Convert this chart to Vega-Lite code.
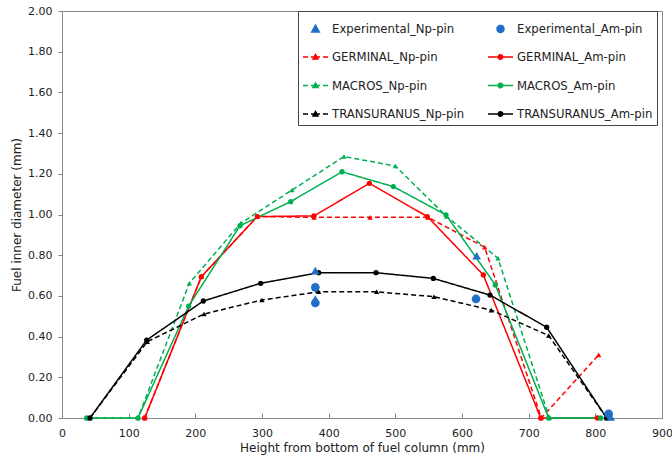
{
  "$schema": "https://vega.github.io/schema/vega-lite/v6.json",
  "width": 600,
  "height": 407,
  "autosize": {"type": "none"},
  "padding": {"left": 62, "top": 11, "right": 10, "bottom": 44},
  "background": "white",
  "config": {
    "font": "DejaVu Sans",
    "view": {"stroke": "#888888", "strokeWidth": 1},
    "axis": {"grid": false, "domainColor": "#888888", "tickColor": "#888888", "labelFont": "DejaVu Sans", "titleFont": "DejaVu Sans", "labelFontSize": 11, "titleFontSize": 12, "titleFontWeight": "normal", "labelColor": "#222222", "titleColor": "#222222"}
  },
  "datasets": {
    "pts": [
      {"s": "Experimental_Np-pin", "x": 380, "y": 0.725},
      {"s": "Experimental_Np-pin", "x": 380, "y": 0.585},
      {"s": "Experimental_Np-pin", "x": 622, "y": 0.797},
      {"s": "Experimental_Np-pin", "x": 823, "y": 0.005},
      {"s": "Experimental_Am-pin", "x": 380, "y": 0.642},
      {"s": "Experimental_Am-pin", "x": 380, "y": 0.565},
      {"s": "Experimental_Am-pin", "x": 621, "y": 0.585},
      {"s": "Experimental_Am-pin", "x": 820, "y": 0.02},
      {"s": "GERMINAL_Np-pin", "x": 124, "y": 0},
      {"s": "GERMINAL_Np-pin", "x": 209, "y": 0.694},
      {"s": "GERMINAL_Np-pin", "x": 293, "y": 0.99},
      {"s": "GERMINAL_Np-pin", "x": 378, "y": 0.986},
      {"s": "GERMINAL_Np-pin", "x": 462, "y": 0.986},
      {"s": "GERMINAL_Np-pin", "x": 549, "y": 0.986},
      {"s": "GERMINAL_Np-pin", "x": 634, "y": 0.839},
      {"s": "GERMINAL_Np-pin", "x": 719, "y": 0},
      {"s": "GERMINAL_Np-pin", "x": 805, "y": 0.31},
      {"s": "GERMINAL_Am-pin", "x": 124, "y": 0},
      {"s": "GERMINAL_Am-pin", "x": 209, "y": 0.694},
      {"s": "GERMINAL_Am-pin", "x": 293, "y": 0.99},
      {"s": "GERMINAL_Am-pin", "x": 378, "y": 0.993},
      {"s": "GERMINAL_Am-pin", "x": 461, "y": 1.153},
      {"s": "GERMINAL_Am-pin", "x": 548, "y": 0.99},
      {"s": "GERMINAL_Am-pin", "x": 632, "y": 0.703},
      {"s": "GERMINAL_Am-pin", "x": 718, "y": 0},
      {"s": "GERMINAL_Am-pin", "x": 803, "y": 0},
      {"s": "MACROS_Np-pin", "x": 37, "y": 0},
      {"s": "MACROS_Np-pin", "x": 114, "y": 0},
      {"s": "MACROS_Np-pin", "x": 191, "y": 0.662},
      {"s": "MACROS_Np-pin", "x": 268, "y": 0.957},
      {"s": "MACROS_Np-pin", "x": 345, "y": 1.12},
      {"s": "MACROS_Np-pin", "x": 423, "y": 1.285},
      {"s": "MACROS_Np-pin", "x": 500, "y": 1.238},
      {"s": "MACROS_Np-pin", "x": 577, "y": 0.99},
      {"s": "MACROS_Np-pin", "x": 654, "y": 0.785},
      {"s": "MACROS_Np-pin", "x": 731, "y": 0},
      {"s": "MACROS_Np-pin", "x": 808, "y": 0},
      {"s": "MACROS_Am-pin", "x": 37, "y": 0},
      {"s": "MACROS_Am-pin", "x": 114, "y": 0},
      {"s": "MACROS_Am-pin", "x": 190, "y": 0.55},
      {"s": "MACROS_Am-pin", "x": 267, "y": 0.945},
      {"s": "MACROS_Am-pin", "x": 343, "y": 1.063},
      {"s": "MACROS_Am-pin", "x": 420, "y": 1.21},
      {"s": "MACROS_Am-pin", "x": 497, "y": 1.137},
      {"s": "MACROS_Am-pin", "x": 576, "y": 0.998},
      {"s": "MACROS_Am-pin", "x": 650, "y": 0.654},
      {"s": "MACROS_Am-pin", "x": 730, "y": 0},
      {"s": "MACROS_Am-pin", "x": 808, "y": 0},
      {"s": "TRANSURANUS_Np-pin", "x": 42, "y": 0},
      {"s": "TRANSURANUS_Np-pin", "x": 128, "y": 0.375},
      {"s": "TRANSURANUS_Np-pin", "x": 213, "y": 0.511},
      {"s": "TRANSURANUS_Np-pin", "x": 300, "y": 0.58},
      {"s": "TRANSURANUS_Np-pin", "x": 385, "y": 0.62},
      {"s": "TRANSURANUS_Np-pin", "x": 472, "y": 0.62},
      {"s": "TRANSURANUS_Np-pin", "x": 558, "y": 0.596},
      {"s": "TRANSURANUS_Np-pin", "x": 644, "y": 0.53},
      {"s": "TRANSURANUS_Np-pin", "x": 730, "y": 0.405},
      {"s": "TRANSURANUS_Np-pin", "x": 817, "y": 0},
      {"s": "TRANSURANUS_Am-pin", "x": 42, "y": 0},
      {"s": "TRANSURANUS_Am-pin", "x": 127, "y": 0.383},
      {"s": "TRANSURANUS_Am-pin", "x": 212, "y": 0.575},
      {"s": "TRANSURANUS_Am-pin", "x": 298, "y": 0.662},
      {"s": "TRANSURANUS_Am-pin", "x": 385, "y": 0.714},
      {"s": "TRANSURANUS_Am-pin", "x": 471, "y": 0.714},
      {"s": "TRANSURANUS_Am-pin", "x": 557, "y": 0.686},
      {"s": "TRANSURANUS_Am-pin", "x": 642, "y": 0.604},
      {"s": "TRANSURANUS_Am-pin", "x": 727, "y": 0.446},
      {"s": "TRANSURANUS_Am-pin", "x": 817, "y": 0}
    ]
  },
  "data": {"name": "pts"},
  "encoding": {
    "x": {"field": "x", "type": "quantitative", "scale": {"domain": [0, 900], "nice": false},
      "axis": {"title": "Height from bottom of fuel column (mm)", "values": [0,100,200,300,400,500,600,700,800,900], "tickSize": -5, "labelPadding": 14, "titlePadding": 4, "labelFlush": false}},
    "y": {"field": "y", "type": "quantitative", "scale": {"domain": [0, 2], "nice": false},
      "axis": {"title": "Fuel inner diameter (mm)", "values": [0,0.2,0.4,0.6,0.8,1,1.2,1.4,1.6,1.8,2], "format": ".2f", "tickSize": 4, "labelPadding": 6, "titlePadding": 4}},
    "color": {"field": "s", "type": "nominal",
      "scale": {"domain": ["Experimental_Np-pin", "Experimental_Am-pin", "GERMINAL_Np-pin", "GERMINAL_Am-pin", "MACROS_Np-pin", "MACROS_Am-pin", "TRANSURANUS_Np-pin", "TRANSURANUS_Am-pin"],
        "range": ["#1f6fc6", "#1f6fc6", "#ff0000", "#ff0000", "#00b050", "#00b050", "#000000", "#000000"]},
      "legend": {
        "title": null, "orient": "none", "legendX": 236, "legendY": 0, "columns": 2, "direction": "horizontal",
        "symbolSize": 625, "rowPadding": 7.5, "columnPadding": 20, "labelOffset": 3, "padding": 4,
        "labelFont": "DejaVu Sans", "labelFontSize": 11.7, "labelColor": "#222222", "labelLimit": 300,
        "fillColor": "white", "strokeColor": "#444444", "symbolStrokeWidth": 1.5,
        "encode": {"symbols": {"update": {
          "shape": {"signal": "datum.value == 'Experimental_Np-pin' ? 'M-0.3,0.24L0,-0.3L0.3,0.24Z' : datum.value == 'Experimental_Am-pin' ? 'M0.28,0A0.28,0.28,0,1,1,-0.28,0A0.28,0.28,0,1,1,0.28,0Z' : indexof(datum.value, 'Np') >= 0 ? 'M-1,0L-0.6,0M-0.36,0L0.36,0M0.6,0L1,0M-0.2,0.16L0,-0.2L0.2,0.16Z' : 'M-1,0L1,0M0.18,0A0.18,0.18,0,1,1,-0.18,0A0.18,0.18,0,1,1,0.18,0Z'"},
          "size": {"value": 625},
          "fill": {"scale": "color", "field": "value"},
          "stroke": {"scale": "color", "field": "value"},
          "strokeWidth": {"value": 1.5},
          "opacity": {"value": 1},
          "strokeDash": {"value": [1, 0]}
        }}}
      }}
  },
  "layer": [
    {
      "transform": [{"filter": "indexof(datum.s, 'Experimental') < 0"}],
      "mark": {"type": "line", "strokeWidth": 1.5},
      "encoding": {
        "strokeDash": {"field": "s", "type": "nominal", "legend": null,
          "scale": {"domain": ["GERMINAL_Np-pin", "GERMINAL_Am-pin", "MACROS_Np-pin", "MACROS_Am-pin", "TRANSURANUS_Np-pin", "TRANSURANUS_Am-pin"],
            "range": [[5, 3], [1, 0], [5, 3], [1, 0], [5, 3], [1, 0]]}}
      }
    },
    {
      "transform": [{"filter": "indexof(datum.s, 'Experimental') < 0 && indexof(datum.s, 'Np') >= 0"}],
      "mark": {"type": "point", "filled": true, "opacity": 1, "size": 28, "shape": "triangle-up"}
    },
    {
      "transform": [{"filter": "indexof(datum.s, 'Experimental') < 0 && indexof(datum.s, 'Am') >= 0"}],
      "mark": {"type": "point", "filled": true, "opacity": 1, "size": 28, "shape": "circle"}
    },
    {
      "transform": [{"filter": "datum.s == 'Experimental_Np-pin'"}],
      "mark": {"type": "point", "filled": true, "opacity": 1, "size": 75, "shape": "triangle-up"}
    },
    {
      "transform": [{"filter": "datum.s == 'Experimental_Am-pin'"}],
      "mark": {"type": "point", "filled": true, "opacity": 1, "size": 75, "shape": "circle"}
    }
  ]
}
